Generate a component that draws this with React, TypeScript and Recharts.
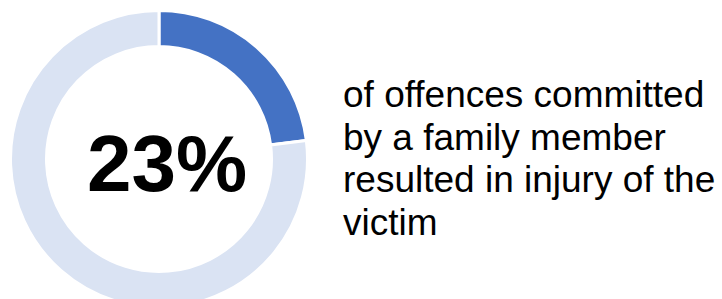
import React from 'react';
import { PieChart, Pie, Cell } from 'recharts';

const categories = ['Resulted in injury', 'Other'];
const values = [23, 77];
const colors = ['#4472C4', '#DAE3F3'];
const centerLabel = '23%';
const descLines = [
  'of offences committed',
  'by a family member',
  'resulted in injury of the',
  'victim',
];

const data = categories.map((name, i) => ({ name, value: values[i] }));

export default function App() {
  return (
    <div style={{ position: 'absolute', left: 0, top: 0, width: 722, height: 299, background: '#fff' }}>
      <PieChart width={722} height={299} margin={{ top: 0, right: 0, bottom: 0, left: 0 }}>
        <Pie
          data={data}
          dataKey="value"
          nameKey="name"
          cx={159}
          cy={159}
          innerRadius={112.5}
          outerRadius={148.5}
          startAngle={90}
          endAngle={-270}
          stroke="#ffffff"
          strokeWidth={3}
          isAnimationActive={false}
        >
          {data.map((d, i) => (
            <Cell key={d.name} fill={colors[i]} />
          ))}
        </Pie>
      </PieChart>
      <svg
        width={722}
        height={299}
        style={{ position: 'absolute', left: 0, top: 0, pointerEvents: 'none' }}
      >
        <text
          x={167}
          y={191}
          textAnchor="middle"
          fontFamily="'Liberation Sans', Arial, sans-serif"
          fontWeight="bold"
          fontSize={80}
          fill="#000"
        >
          {centerLabel}
        </text>
        {descLines.map((line, i) => (
          <text
            key={i}
            x={343}
            y={107 + i * 42.7}
            fontFamily="'Liberation Sans', Arial, sans-serif"
            fontSize={37}
            fill="#000"
          >
            {line}
          </text>
        ))}
      </svg>
    </div>
  );
}
